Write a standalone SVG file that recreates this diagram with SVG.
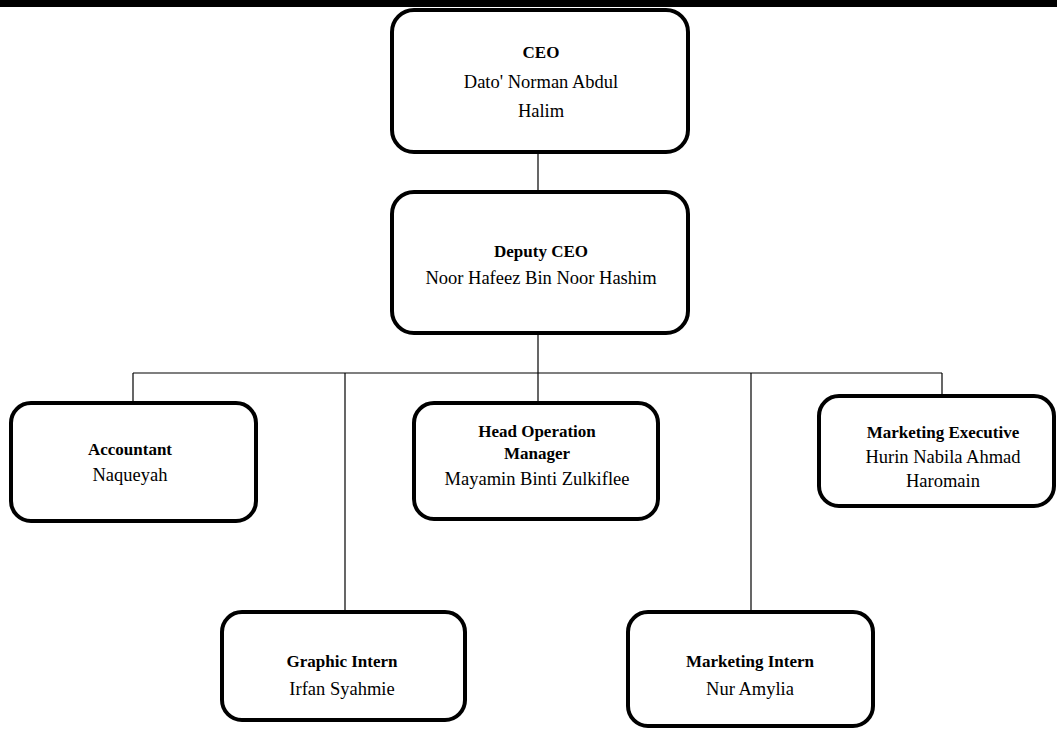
<svg xmlns="http://www.w3.org/2000/svg" width="1057" height="731" viewBox="0 0 1057 731">
<style>
.box{fill:#fff;stroke:#000;stroke-width:4}
.t{font-family:"Liberation Serif",serif;font-size:18.5px;fill:#000;text-anchor:middle}
.b{font-weight:bold;font-size:17px}
.c{stroke:#000;stroke-width:1.2;fill:none}
</style>
<rect x="0" y="0" width="1057" height="731" fill="#fff"/>
<rect x="0" y="0" width="1057" height="7" fill="#000"/>
<g id="connectors">
<line class="c" x1="538" y1="152" x2="538" y2="192"/>
<line class="c" x1="538" y1="333" x2="538" y2="373"/>
<line class="c" x1="133" y1="373" x2="942" y2="373"/>
<line class="c" x1="133" y1="373" x2="133" y2="402"/>
<line class="c" x1="345" y1="373" x2="345" y2="612"/>
<line class="c" x1="538" y1="373" x2="538" y2="403"/>
<line class="c" x1="751" y1="373" x2="751" y2="612"/>
<line class="c" x1="942" y1="373" x2="942" y2="395"/>
</g>
<g id="ceo">
<rect class="box" x="392" y="10" width="296" height="142" rx="22"/>
<text class="t b" x="541" y="58">CEO</text>
<text class="t" x="541" y="88">Dato' Norman Abdul</text>
<text class="t" x="541" y="117">Halim</text>
</g>
<g id="deputy">
<rect class="box" x="392" y="192" width="296" height="141" rx="22"/>
<text class="t b" x="541" y="257">Deputy CEO</text>
<text class="t" x="541" y="284">Noor Hafeez Bin Noor Hashim</text>
</g>
<g id="accountant">
<rect class="box" x="11" y="403" width="245" height="118" rx="20"/>
<text class="t b" x="130" y="455">Accountant</text>
<text class="t" x="130" y="481">Naqueyah</text>
</g>
<g id="headop">
<rect class="box" x="414" y="403" width="244" height="116" rx="20"/>
<text class="t b" x="537" y="437">Head Operation</text>
<text class="t b" x="537" y="459">Manager</text>
<text class="t" x="537" y="485">Mayamin Binti Zulkiflee</text>
</g>
<g id="mktexec">
<rect class="box" x="819" y="396" width="235" height="110" rx="20"/>
<text class="t b" x="943" y="438">Marketing Executive</text>
<text class="t" x="943" y="463">Hurin Nabila Ahmad</text>
<text class="t" x="943" y="487">Haromain</text>
</g>
<g id="graphic">
<rect class="box" x="222" y="612" width="243" height="108" rx="20"/>
<text class="t b" x="342" y="667">Graphic Intern</text>
<text class="t" x="342" y="695">Irfan Syahmie</text>
</g>
<g id="mktintern">
<rect class="box" x="628" y="612" width="245" height="114" rx="20"/>
<text class="t b" x="750" y="667">Marketing Intern</text>
<text class="t" x="750" y="695">Nur Amylia</text>
</g>
</svg>
